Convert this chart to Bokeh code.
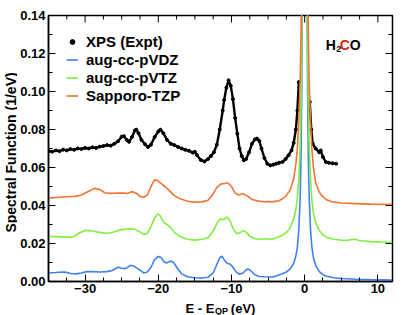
import math
from bokeh.plotting import figure
from bokeh.layouts import column, row
from bokeh.models import FixedTicker, Legend, LegendItem, Label, NumeralTickFormatter, Range1d
from bokeh.core.properties import value
from bokeh.embed import file_html
from bokeh.resources import INLINE

# ---------------- data ----------------
xps_x = [-35.0, -34.5, -34.0, -33.5, -33.0, -32.5, -32.0, -31.5, -31.0, -30.5,
         -30.0, -29.5, -29.0, -28.5, -28.0, -27.5, -27.0, -26.5, -26.0, -25.5,
         -25.0, -24.7, -24.3, -24.0, -23.6, -23.2, -23.0, -22.7, -22.3, -21.8,
         -21.4, -21.0, -20.5, -20.0, -19.7, -19.3, -18.8, -18.3, -17.8, -17.3,
         -16.8, -16.3, -15.8, -15.3, -15.0, -14.7, -14.2, -13.7, -13.2, -12.8,
         -12.4, -12.0, -11.6, -11.2, -11.0, -10.7, -10.4, -10.1, -9.8, -9.5,
         -9.2, -8.9, -8.6, -8.3, -8.0, -7.6, -7.2, -6.8, -6.5, -6.2,
         -5.9, -5.5, -5.1, -4.7, -4.3, -3.9, -3.5, -3.0, -2.6, -2.2,
         -1.8, -1.5, -1.2, -1.0, -0.8, 0.0, 0.7, 0.9, 1.1, 1.5,
         2.0, 2.2, 2.5, 2.9, 3.3, 3.8, 4.3]
xps_y = [0.0687, 0.0683, 0.0690, 0.0686, 0.0694, 0.0690, 0.0697, 0.0693, 0.0700, 0.0697,
         0.0703, 0.0700, 0.0706, 0.0703, 0.0710, 0.0713, 0.0718, 0.0715, 0.0725, 0.0738,
         0.0762, 0.0765, 0.0745, 0.0735, 0.0760, 0.0795, 0.0799, 0.0780, 0.0745, 0.0722,
         0.0708, 0.0720, 0.0760, 0.0790, 0.0799, 0.0780, 0.0745, 0.0725, 0.0718, 0.0708,
         0.0700, 0.0693, 0.0688, 0.0678, 0.0683, 0.0665, 0.0640, 0.0632, 0.0645, 0.0660,
         0.0680, 0.0720, 0.0800, 0.0900, 0.0955, 0.1020, 0.1059, 0.1030, 0.0960, 0.0860,
         0.0778, 0.0700, 0.0660, 0.0638, 0.0645, 0.0680, 0.0725, 0.0748, 0.0752, 0.0740,
         0.0700, 0.0650, 0.0620, 0.0611, 0.0615, 0.0620, 0.0625, 0.0630, 0.0645, 0.0665,
         0.0690, 0.0730, 0.0800, 0.0900, 0.1050, float("nan"), 0.0945, 0.0800, 0.0725, 0.0700,
         0.0680, 0.0690, 0.0655, 0.0629, 0.0625, 0.0622, 0.0620]

vdz_x = [-35, -34, -33, -32.5, -32, -31.2, -30.5, -29.8, -29, -28, -27, -26.3,
         -25.5, -25.0, -24.5, -23.8, -23.3, -22.7, -22.0, -21.5, -21.0, -20.5,
         -20.0, -19.6, -19.2, -18.8, -18.3, -17.9, -17.4, -16.8, -16.0, -15.0,
         -14.0, -13.2, -12.5, -12.0, -11.6, -11.3, -11.0, -10.6, -10.2, -9.8,
         -9.3, -8.9, -8.4, -8.0, -7.7, -7.3, -6.8, -6.2, -5.5, -4.5, -4.0,
         -3.0, -2.5, -2.0, -1.5, -1.2, -1.0, -0.8, -0.6, -0.5, -0.4, -0.3, -0.2,
         0.0, 0.2, 0.3, 0.4, 0.5, 0.6, 0.8, 1.0, 1.2, 1.5, 2.0, 2.5, 3.0, 4.0,
         5.0, 7.0, 9.0, 12.0]
vdz_y = [0.0045, 0.0047, 0.0050, 0.0048, 0.0042, 0.0040, 0.0045, 0.0052, 0.0052, 0.0050, 0.0052, 0.0058,
         0.0075, 0.0070, 0.0068, 0.0085, 0.0080, 0.0065, 0.0045, 0.0050, 0.0075, 0.0115,
         0.0132, 0.0125, 0.0103, 0.0098, 0.0108, 0.0100, 0.0070, 0.0040, 0.0025, 0.0020,
         0.0018, 0.0022, 0.0045, 0.0090, 0.0125, 0.0133, 0.0115, 0.0095, 0.0092, 0.0075,
         0.0048, 0.0038, 0.0045, 0.0062, 0.0066, 0.0055, 0.0035, 0.0026, 0.0025, 0.0024, 0.0027,
         0.0042, 0.0050, 0.0065, 0.0095, 0.0135, 0.0180, 0.0270, 0.0460, 0.0660, 0.1000, 0.1700, 0.3600,
         1.2000, 0.3600, 0.1700, 0.1000, 0.0660, 0.0460, 0.0270, 0.0175, 0.0125, 0.0085, 0.0052, 0.0036, 0.0028, 0.0020,
         0.0016, 0.0012, 0.0010, 0.0008]

vtz_x = [-35, -34, -33, -32, -31.5, -30.8, -30.0, -29.3, -28.5, -27.5, -26.8, -26.0,
         -25.0, -24.0, -23.3, -22.7, -22.0, -21.5, -21.0, -20.5, -20.1, -19.7,
         -19.3, -18.8, -18.3, -17.8, -17.0, -16.0, -15.0, -14.0, -13.2, -12.5,
         -12.0, -11.5, -11.1, -10.6, -10.2, -9.8, -9.3, -8.9, -8.4, -8.0, -7.5,
         -6.8, -6.0, -5.2, -4.6, -4.0, -3.0, -2.5, -2.0, -1.5, -1.2, -1.0, -0.8,
         -0.6, -0.5, -0.4, -0.3, -0.2, 0.0, 0.2, 0.3, 0.4, 0.5, 0.6, 0.8, 1.0,
         1.2, 1.5, 2.0, 2.5, 3.0, 4.0, 5.0, 6.0, 6.8, 7.5, 9.0, 10.5, 12.0]
vtz_y = [0.0237, 0.0236, 0.0235, 0.0232, 0.0238, 0.0255, 0.0268, 0.0268, 0.0262, 0.0256, 0.0254, 0.0262,
         0.0273, 0.0278, 0.0276, 0.0265, 0.0248, 0.0252, 0.0290, 0.0335, 0.0356, 0.0345,
         0.0312, 0.0300, 0.0285, 0.0258, 0.0235, 0.0222, 0.0218, 0.0222, 0.0232, 0.0265,
         0.0305, 0.0330, 0.0325, 0.0340, 0.0320, 0.0280, 0.0252, 0.0255, 0.0269, 0.0260, 0.0238,
         0.0225, 0.0222, 0.0225, 0.0222, 0.0228, 0.0245, 0.0258, 0.0282, 0.0330, 0.0380, 0.0440, 0.0540,
         0.0740, 0.0940, 0.1250, 0.1850, 0.3000, 1.0000, 0.3000, 0.1850, 0.1250, 0.0940, 0.0740, 0.0540, 0.0420,
         0.0360, 0.0310, 0.0268, 0.0245, 0.0232, 0.0222, 0.0217, 0.0218, 0.0222, 0.0216, 0.0210, 0.0207, 0.0205]

tzp_x = [-35, -34, -33, -32, -31.3, -30.5, -29.5, -28.7, -28.0, -27.3, -26.5, -25.5,
         -24.7, -24.2, -23.6, -23.0, -22.5, -22.0, -21.5, -21.0, -20.5, -20.1,
         -19.6, -19.1, -18.5, -17.8, -17.0, -16.0, -15.0, -14.0, -13.2, -12.6,
         -12.0, -11.4, -10.9, -10.5, -10.0, -9.5, -9.0, -8.4, -7.9, -7.2, -6.3,
         -5.5, -5.0, -4.5, -3.5, -2.7, -2.0, -1.5, -1.2, -1.0, -0.8, -0.6, -0.5,
         -0.4, -0.3, -0.2, 0.0, 0.2, 0.3, 0.4, 0.5, 0.6, 0.8, 1.0, 1.2, 1.5,
         2.0, 2.4, 3.0, 3.7, 5.0, 7.0, 9.0, 12.0]
tzp_y = [0.0439, 0.0442, 0.0445, 0.0447, 0.0448, 0.0455, 0.0475, 0.0490, 0.0484, 0.0467, 0.0464, 0.0466,
         0.0465, 0.0463, 0.0473, 0.0465, 0.0448, 0.0443, 0.0455, 0.0500, 0.0535, 0.0532,
         0.0515, 0.0500, 0.0478, 0.0452, 0.0435, 0.0422, 0.0418, 0.0419, 0.0428, 0.0455,
         0.0495, 0.0514, 0.0516, 0.0520, 0.0500, 0.0465, 0.0455, 0.0462, 0.0452, 0.0432, 0.0423,
         0.0420, 0.0421, 0.0419, 0.0425, 0.0444, 0.0480, 0.0540, 0.0620, 0.0700, 0.0840, 0.1080, 0.1300,
         0.1700, 0.2500, 0.4000, 1.0000, 0.4000, 0.2500, 0.1700, 0.1300, 0.1080, 0.0840, 0.0690, 0.0600, 0.0520,
         0.0470, 0.0450, 0.0430, 0.0420, 0.0413, 0.0410, 0.0407, 0.0405]

x_min, x_max = -35, 12
y_min, y_max = 0.0, 0.14
x_major = [-30, -20, -10, 0, 10]
x_minor = [-35, -32.5, -27.5, -25, -22.5, -17.5, -15, -12.5, -7.5, -5, -2.5,
           2.5, 5, 7.5]
y_major = [0.00, 0.02, 0.04, 0.06, 0.08, 0.10, 0.12, 0.14]
y_minor = [0.01, 0.03, 0.05, 0.07, 0.09, 0.11, 0.13]

series_names = ["XPS (Expt)", "aug-cc-pVDZ", "aug-cc-pVTZ", "Sapporo-TZP"]
y_title = "Spectral Function (1/eV)"
x_title_parts = ["E - E", "QP", "(eV)"]
c_blue = "#4080f0"
c_green = "#80f040"
c_orange = "#f47232"

FONT = "Liberation Sans"
W_YLAB = 17
W = 407 - W_YLAB
H_MAIN = 298
H_XLAB = 17

# ---------------- main figure ----------------
p = figure(width=W, height=H_MAIN, x_range=Range1d(x_min, x_max),
           y_range=Range1d(y_min, y_max),
           output_backend="svg", toolbar_location=None,
           min_border_left=30, min_border_right=15, min_border_top=15,
           min_border_bottom=17)
p.grid.visible = False
p.outline_line_color = "black"
p.outline_line_width = 1.5
p.background_fill_color = "white"
p.border_fill_color = "white"

p.xaxis.ticker = FixedTicker(ticks=x_major, minor_ticks=x_minor)
p.yaxis.ticker = FixedTicker(ticks=y_major, minor_ticks=y_minor)
p.yaxis.formatter = NumeralTickFormatter(format="0.00")
for ax in p.xaxis + p.yaxis:
    ax.axis_line_color = "black"
    ax.axis_line_width = 1.5
    ax.major_tick_in = 7
    ax.major_tick_out = 0
    ax.minor_tick_in = 4
    ax.minor_tick_out = 0
    ax.major_tick_line_color = "black"
    ax.minor_tick_line_color = "black"
    ax.major_label_text_font = FONT
    ax.major_label_text_font_style = "bold"
    ax.major_label_text_font_size = "13px"
    ax.major_label_text_color = "black"
p.xaxis.major_label_standoff = 2
p.yaxis.major_label_standoff = 3

# ticks on top and right edges (inward)
p.ray(x=x_major, y=y_max, length=7, length_units="screen", angle=-math.pi / 2,
      line_color="black", line_width=1)
p.ray(x=x_minor, y=y_max, length=4, length_units="screen", angle=-math.pi / 2,
      line_color="black", line_width=1)
p.ray(x=x_max, y=y_major, length=7, length_units="screen", angle=math.pi,
      line_color="black", line_width=1)
p.ray(x=x_max, y=y_minor, length=4, length_units="screen", angle=math.pi,
      line_color="black", line_width=1)

# ---------------- curves ----------------
p.line(xps_x, xps_y, line_color="black", line_width=2.4)
r_xps = p.scatter(xps_x, xps_y, size=3, marker="circle", fill_color="black",
                  line_color="black")
r_vdz = p.line(vdz_x, vdz_y, line_color=c_blue, line_width=1.6)
r_vtz = p.line(vtz_x, vtz_y, line_color=c_green, line_width=1.6)
r_tzp = p.line(tzp_x, tzp_y, line_color=c_orange, line_width=1.6)

legend = Legend(items=[
    LegendItem(label=series_names[0], renderers=[r_xps]),
    LegendItem(label=series_names[1], renderers=[r_vdz]),
    LegendItem(label=series_names[2], renderers=[r_vtz]),
    LegendItem(label=series_names[3], renderers=[r_tzp]),
], location="top_left")
legend.label_text_font = FONT
legend.label_text_font_style = "bold"
legend.label_text_font_size = "15px"
legend.label_text_color = "black"
legend.label_height = 17
legend.glyph_height = 17
legend.glyph_width = 12
legend.label_standoff = 8
legend.spacing = 1
legend.padding = 0
legend.margin = 18
legend.border_line_color = None
legend.background_fill_alpha = 0
p.add_layout(legend)

mol_parts = [("H", 2.88, 0.1243, "14px", "black"),
             ("2", 4.31, 0.1225, "9px", "black"),
             ("C", 4.78, 0.1243, "14px", "#d4280c"),
             ("O", 6.16, 0.1243, "14px", "black")]
for t, xx, yy, fs, col in mol_parts:
    p.add_layout(Label(x=xx, y=yy, text=t, text_align="left",
                       text_baseline="alphabetic", text_font=FONT,
                       text_font_style="bold", text_font_size=fs, text_color=col))

# ---------------- y-axis title strip (shares the y scale) ----------------
py = figure(width=W_YLAB, height=H_MAIN, x_range=Range1d(0, W_YLAB), y_range=p.y_range,
            output_backend="svg", toolbar_location=None,
            x_axis_type=None, y_axis_type=None,
            min_border_left=0, min_border_right=0, min_border_top=0,
            min_border_bottom=0)
py.outline_line_color = None
py.background_fill_color = "white"
py.border_fill_color = "white"
py.text(x=[10], y=[(y_min + y_max) / 2 - 0.0014], text=[y_title], angle=math.pi / 2,
        text_align="center", text_baseline="middle",
        text_font=value(FONT), text_font_style="bold",
        text_font_size=value("14px"), text_color="black")

# ---------------- x-axis title strip (for the subscript) ----------------
p2 = figure(width=W, height=H_XLAB, x_range=p.x_range, y_range=Range1d(H_XLAB, 0),
            output_backend="svg", toolbar_location=None,
            x_axis_type=None, y_axis_type=None,
            min_border_left=0, min_border_right=0, min_border_top=0,
            min_border_bottom=0)
p2.outline_line_color = None
p2.background_fill_color = "white"
p2.border_fill_color = "white"
x_title_pos = [(-16.27, 9.5, "13px"), (-12.26, 12.5, "9px"), (-10.09, 9.5, "13px")]
for t, (xx, yy, fs) in zip(x_title_parts, x_title_pos):
    p2.text(x=[xx], y=[yy], text=[t], text_align="left", text_baseline="alphabetic",
            text_font=value(FONT), text_font_style="bold",
            text_font_size=value(fs), text_color="black")

layout = row(column(py, spacing=0), column(p, p2, spacing=0), spacing=0)
open("out.html", "w").write(file_html(layout, INLINE))
